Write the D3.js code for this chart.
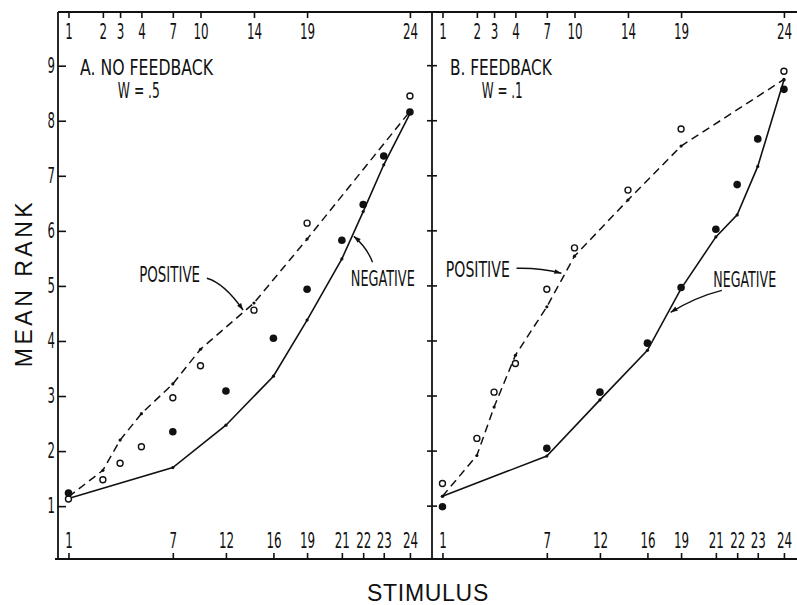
<!DOCTYPE html>
<meta charset="utf-8">
<style>
    body { margin: 0; background: #fff; }
    .narrow { font-family: "Liberation Sans Narrow", "DejaVu Sans Condensed", sans-serif; fill: #111; }
    .tick text { font-family: "Liberation Sans Narrow", "DejaVu Sans Condensed", sans-serif; font-size: 22px; fill: #111; }
    .tick line { stroke: #111; stroke-width: 1.6px; }
    .axisTitle { font-family: "Liberation Sans", "DejaVu Sans", sans-serif; font-size: 23px; fill: #111; }
</style>
<body>
<script src="https://d3js.org/d3.v7.min.js"></script>
<script>
    // where each stimulus sits along the physical scale (0-100 of a panel's width)
    let stimulusNumbers = [1, 2, 3, 4, 7, 10, 12, 14, 16, 19, 21, 22, 23, 24];
    let stimulusScale   = [2.8, 12.0, 16.6, 22.3, 30.7, 38.1, 44.9, 52.4, 57.6, 66.6, 75.9, 81.6, 87.1, 94.1];

    // stimuli labelled on the top (positive) and bottom (negative) axes
    let positiveStimuli = [1, 2, 3, 4, 7, 10, 14, 19, 24];
    let negativeStimuli = [1, 7, 12, 16, 19, 21, 22, 23, 24];
    let rankTicks = [1, 2, 3, 4, 5, 6, 7, 8, 9];

    // A. no feedback
    let posObservedA  = [1.13, 1.48, 1.78, 2.08, 2.97, 3.55, 4.56, 6.14, 8.45];
    let posPredictedA = [1.17, 1.65, 2.20, 2.68, 3.22, 3.85, 4.69, 5.85, 8.17];
    let negObservedA  = [1.24, 2.35, 3.09, 4.05, 4.94, 5.83, 6.48, 7.36, 8.16];
    let negPredictedA = [1.14, 1.70, 2.47, 3.36, 4.38, 5.49, 6.35, 7.20, 8.13];

    // B. feedback
    let posObservedB  = [1.41, 2.23, 3.07, 3.59, 4.94, 5.69, 6.74, 7.85, 8.90];
    let posPredictedB = [1.18, 1.92, 2.80, 3.74, 4.62, 5.54, 6.56, 7.54, 8.75];
    let negObservedB  = [0.99, 2.05, 3.07, 3.96, 4.97, 6.03, 6.84, 7.67, 8.57];
    let negPredictedB = [1.18, 1.91, 2.93, 3.83, 4.95, 5.89, 6.29, 7.17, 8.74];

    // set the dimensions of the graph
    let width = 797;
    let height = 605;
    let plotTop = 12;
    let plotBottom = 559;
    let panelWidth = 374;

    let svg = d3.select("body").append("svg")
        .attr("width", width)
        .attr("height", height);

    let defs = svg.append("defs");
    defs.append("marker")
        .attr("id", "arrowHead")
        .attr("viewBox", "0 0 10 10")
        .attr("refX", 10).attr("refY", 5)
        .attr("markerWidth", 10).attr("markerHeight", 7)
        .attr("markerUnits", "userSpaceOnUse")
        .attr("orient", "auto")
        .append("path")
            .attr("d", "M0,1.5 L10,5 L0,8.5 z")
            .attr("fill", "#111");

    let y = d3.scaleLinear().domain([0.04, 9.975]).range([plotBottom, plotTop]);

    function posOf(n){
        return stimulusScale[stimulusNumbers.indexOf(n)];
    }

    let panels = [
        { left: 58, title: "A. NO FEEDBACK", titleLen: 133, wLabel: "W = .5", wLen: 42,
          posObs: posObservedA, posPred: posPredictedA, negObs: negObservedA, negPred: negPredictedA,
          titleAt: [5.9, 8.83], wAt: [16.0, 8.41],
          posLabelAt: [21.7, 5.07], posLabelLen: 61, posArrow: [[39.8, 5.14], [44.5, 5.05], [49.5, 4.56]],
          negLabelAt: [78.3, 5.0], negLabelLen: 64, negArrow: [[84.1, 5.43], [82.6, 5.70], [79.1, 5.90]] },
        { left: 432, title: "B. FEEDBACK", titleLen: 102, wLabel: "W = .1", wLen: 41,
          posObs: posObservedB, posPred: posPredictedB, negObs: negObservedB, negPred: negPredictedB,
          titleAt: [4.8, 8.83], wAt: [13.3, 8.41],
          posLabelAt: [3.7, 5.16], posLabelLen: 64, posArrow: [[22.6, 5.32], [28.9, 5.33], [34.6, 5.23]],
          negLabelAt: [75.2, 4.98], negLabelLen: 63, negArrow: [[77.5, 4.92], [70.5, 4.80], [63.8, 4.52]] }
    ];

    function zip(stimuli, values){
        return stimuli.map((s, i) => ({ s: s, v: values[i] }));
    }

    function squeezeTicks(g, factor){
        g.select(".domain").remove();
        g.selectAll(".tick text").attr("transform", "scale(" + factor + ",1)");
    }

    function drawArrow(g, x, pts){
        let p = d3.path();
        p.moveTo(x(pts[0][0]), y(pts[0][1]));
        p.quadraticCurveTo(x(pts[1][0]), y(pts[1][1]), x(pts[2][0]), y(pts[2][1]));
        g.append("path")
            .attr("d", p.toString())
            .attr("fill", "none")
            .attr("stroke", "#111")
            .attr("stroke-width", 1.4)
            .attr("marker-end", "url(#arrowHead)");
    }

    // lettering is squeezed sideways so it fills the width seen in the original
    function drawLabel(g, x, at, text, len, size){
        let t = g.append("text")
            .attr("class", "narrow")
            .style("font-size", size + "px")
            .text(text);
        let natural = t.node().getComputedTextLength();
        t.attr("transform", "translate(" + x(at[0]) + "," + y(at[1]) + ") scale(" + (len / natural) + ",1)");
    }

    function drawPanel(panel){
        let x = d3.scaleLinear().domain([0, 100]).range([panel.left, panel.left + panelWidth]);
        let g = svg.append("g");

        // top axis: positive stimuli
        g.append("g")
            .attr("transform", "translate(0," + plotTop + ")")
            .call(d3.axisBottom(x)
                .tickValues(positiveStimuli.map(posOf))
                .tickFormat((d, i) => positiveStimuli[i])
                .tickSize(6).tickPadding(5))
            .call(squeezeTicks, 0.6);

        // bottom axis: negative stimuli
        g.append("g")
            .attr("transform", "translate(0," + plotBottom + ")")
            .call(d3.axisTop(x)
                .tickValues(negativeStimuli.map(posOf))
                .tickFormat((d, i) => negativeStimuli[i])
                .tickSize(6).tickPadding(5))
            .call(squeezeTicks, 0.6);

        let line = d3.line()
            .x(d => x(posOf(d.s)))
            .y(d => y(d.v));

        let posPred = zip(positiveStimuli, panel.posPred);
        let negPred = zip(negativeStimuli, panel.negPred);

        g.append("path")
            .datum(posPred)
            .attr("d", line)
            .attr("fill", "none")
            .attr("stroke", "#111")
            .attr("stroke-width", 1.5)
            .attr("stroke-dasharray", "8,5");

        g.append("path")
            .datum(negPred)
            .attr("d", line)
            .attr("fill", "none")
            .attr("stroke", "#111")
            .attr("stroke-width", 1.6);

        // little dots at the predicted points
        g.selectAll(".vertex")
            .data(posPred.concat(negPred))
            .join("circle")
                .attr("cx", d => x(posOf(d.s)))
                .attr("cy", d => y(d.v))
                .attr("r", 1.6)
                .attr("fill", "#111");

        // observed: open = positive, filled = negative
        g.selectAll(".openDot")
            .data(zip(positiveStimuli, panel.posObs))
            .join("circle")
                .attr("cx", d => x(posOf(d.s)))
                .attr("cy", d => y(d.v))
                .attr("r", 3)
                .attr("fill", "#fff")
                .attr("stroke", "#111")
                .attr("stroke-width", 1.4);

        g.selectAll(".filledDot")
            .data(zip(negativeStimuli, panel.negObs))
            .join("circle")
                .attr("cx", d => x(posOf(d.s)))
                .attr("cy", d => y(d.v))
                .attr("r", 3.8)
                .attr("fill", "#111");

        drawLabel(g, x, panel.titleAt, panel.title, panel.titleLen, 20.5);
        drawLabel(g, x, panel.wAt, panel.wLabel, panel.wLen, 20.5);
        drawLabel(g, x, panel.posLabelAt, "POSITIVE", panel.posLabelLen, 21);
        drawLabel(g, x, panel.negLabelAt, "NEGATIVE", panel.negLabelLen, 21);
        drawArrow(g, x, panel.posArrow);
        drawArrow(g, x, panel.negArrow);
    }

    panels.forEach(drawPanel);

    // frame: top and bottom rules, left axis, divider
    let frame = svg.append("g").attr("stroke", "#111").attr("stroke-width", 1.8);
    frame.append("line").attr("x1", 58).attr("x2", width).attr("y1", plotTop).attr("y2", plotTop);
    frame.append("line").attr("x1", 55).attr("x2", width).attr("y1", plotBottom).attr("y2", plotBottom);
    frame.append("line").attr("x1", 58).attr("x2", 58).attr("y1", plotTop).attr("y2", plotBottom);
    frame.append("line").attr("x1", 432).attr("x2", 432).attr("y1", plotTop).attr("y2", plotBottom);

    // left rank axis
    svg.append("g")
        .attr("transform", "translate(58,0)")
        .call(d3.axisLeft(y).tickValues(rankTicks).tickSizeInner(-8).tickSizeOuter(0).tickPadding(5))
        .call(squeezeTicks, 0.62)
        .selectAll(".tick text").style("font-size", "21px");

    // crossing ticks on the divider
    svg.append("g").selectAll("line")
        .data(rankTicks)
        .join("line")
            .attr("x1", 427).attr("x2", 437)
            .attr("y1", d => y(d)).attr("y2", d => y(d))
            .attr("stroke", "#111").attr("stroke-width", 1.6);

    // axis titles
    svg.append("text")
        .attr("class", "axisTitle")
        .attr("transform", "translate(32,283) rotate(-90)")
        .attr("text-anchor", "middle")
        .style("letter-spacing", "3.5px")
        .text("MEAN RANK");

    svg.append("text")
        .attr("class", "axisTitle")
        .attr("x", 428).attr("y", 601)
        .attr("text-anchor", "middle")
        .style("letter-spacing", "0.7px")
        .text("STIMULUS");
</script>
</body>
